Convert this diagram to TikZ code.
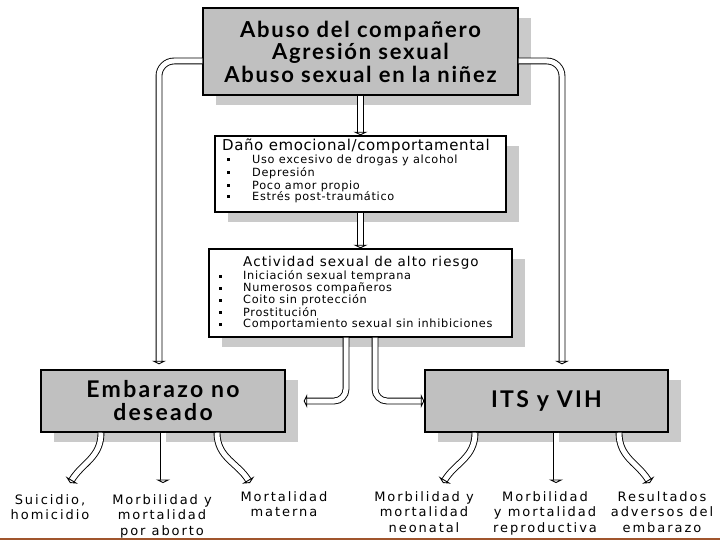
\documentclass[tikz,border=0pt]{standalone}
\usepackage{fontspec}
\setmainfont{DejaVu Sans}
\newfontfamily\ttlfont[LetterSpace=8]{Lato}
\newfontfamily\bigfont[LetterSpace=10]{Lato}
\newfontfamily\boxfont[LetterSpace=4]{DejaVu Sans}
\newfontfamily\itmfont[LetterSpace=6]{DejaVu Sans}
\newfontfamily\ctfont[LetterSpace=8]{DejaVu Sans}
\newfontfamily\labfont[LetterSpace=15]{DejaVu Sans}
\usetikzlibrary{arrows.meta,shadows}
\definecolor{boxgray}{RGB}{192,192,192}
\definecolor{shadegray}{RGB}{202,202,202}
\definecolor{rulecol}{RGB}{160,85,45}
\begin{document}
\begin{tikzpicture}[x=1pt,y=-1pt,
  sbox/.style={draw=black, line width=1.4pt, inner sep=0pt,
    general shadow={fill=shadegray, shadow xshift=13pt, shadow yshift=-10pt}},
  hol/.style={line width=0.9pt, double=white, double distance=5pt,
    -{Triangle[open,fill=white,length=3.5pt,width=14pt,line width=0.9pt]}},
  bul/.style={inner sep=0pt, minimum size=3pt, fill=black},
  btitle/.style={anchor=west, inner sep=0pt},
  itm/.style={anchor=west, inner sep=0pt, font=\itmfont\fontsize{11.3}{13}\selectfont},
  lab/.style={anchor=north, align=center, inner sep=0pt, font=\labfont\fontsize{13}{15.5}\selectfont},
]
\useasboundingbox (0,0) rectangle (720,540);
\fill[white] (0,0) rectangle (720,540);

% boxes
\node[sbox, fill=boxgray, minimum width=315pt, minimum height=87pt, align=center,
  font=\ttlfont\bfseries\fontsize{22}{22.5}\selectfont] (A) at (360.5,51.5)
  {Abuso del compañero\\Agresión sexual\\Abuso sexual en la niñez};

\node[sbox, fill=white, minimum width=291pt, minimum height=76pt] (B) at (360.5,174) {};
\node[btitle, font=\boxfont\fontsize{15}{17}\selectfont] (Bt) at (222,146) {Daño emocional/comportamental};
\node[bul] (Bb1) at (228,160) {};
\node[bul] (Bb2) at (228,173) {};
\node[bul] (Bb3) at (228,186) {};
\node[bul] (Bb4) at (228,197) {};
\node[itm] (Bi1) at (252,160) {Uso excesivo de drogas y alcohol};
\node[itm] (Bi2) at (252,173) {Depresión};
\node[itm] (Bi3) at (252,186) {Poco amor propio};
\node[itm] (Bi4) at (252,197) {Estrés post-traumático};

\node[sbox, fill=white, minimum width=303pt, minimum height=88pt] (C) at (360.5,293) {};
\node[btitle, font=\ctfont\fontsize{13.5}{15}\selectfont] (Ct) at (243,263) {Actividad sexual de alto riesgo};
\node[bul] (Cb1) at (220,276) {};
\node[bul] (Cb2) at (220,288) {};
\node[bul] (Cb3) at (220,300) {};
\node[bul] (Cb4) at (220,312) {};
\node[bul] (Cb5) at (220,324) {};
\node[itm] (Ci1) at (243,276) {Iniciación sexual temprana};
\node[itm] (Ci2) at (243,288) {Numerosos compañeros};
\node[itm] (Ci3) at (243,300) {Coito sin protección};
\node[itm] (Ci4) at (243,312) {Prostitución};
\node[itm] (Ci5) at (243,324) {Comportamiento sexual sin inhibiciones};

\node[sbox, fill=boxgray, minimum width=244pt, minimum height=62pt, align=center,
  font=\bigfont\bfseries\fontsize{23}{23}\selectfont] (D) at (163,401) {Embarazo no\\deseado};
\node[sbox, fill=boxgray, minimum width=243pt, minimum height=62pt, align=center,
  font=\bigfont\bfseries\fontsize{23}{23}\selectfont] (E) at (546.5,401) {ITS y VIH};

% outcome labels
\node[lab] (l1) at (50,494) {Suicidio,\\homicidio};
\node[lab] (l2) at (162,494) {Morbilidad y\\mortalidad\\por aborto};
\node[lab] (l3) at (284,491) {Mortalidad\\materna};
\node[lab] (l4) at (424,491) {Morbilidad y\\mortalidad\\neonatal};
\node[lab] (l5) at (545,491) {Morbilidad\\y mortalidad\\reproductiva};
\node[lab] (l6) at (662,491) {Resultados\\adversos del\\embarazo};

\coordinate (t1) at (70,483);
\coordinate (t2) at (163,483);
\coordinate (t3) at (250,483);
\coordinate (t4) at (443,483);
\coordinate (t5) at (556,483);
\coordinate (t6) at (650,483);

% connectors
\draw[hol] (A.south) -- (B.north);
\draw[hol] (B.south) -- (C.north);
\draw[hol, rounded corners=12pt] ([xshift=-14.5pt]C.south) |- ([xshift=18pt]D.east);
\draw[hol, rounded corners=12pt] ([xshift=14.5pt]C.south) |- (E.west);
\draw[hol, rounded corners=15pt] ([yshift=-9.5pt]A.west) -| ([xshift=-4pt,yshift=5pt]D.north);
\draw[hol, rounded corners=15pt] ([yshift=-9.5pt]A.east) -| ([xshift=15.5pt,yshift=5pt]E.north);

\draw[hol] ([xshift=-62pt]D.south) .. controls +(0,25) and +(12,-20) .. (t1);
\draw[hol] (D.south) -- (t2);
\draw[hol] ([xshift=54pt]D.south) .. controls +(0,25) and +(-12,-20) .. (t3);
\draw[hol] ([xshift=-71.5pt]E.south) .. controls +(0,25) and +(12,-20) .. (t4);
\draw[hol] ([xshift=9.5pt]E.south) -- (t5);
\draw[hol] ([xshift=72.5pt]E.south) .. controls +(0,25) and +(-12,-20) .. (t6);

\draw[rulecol, line width=2.5pt] (0,538.75) -- (720,538.75);
\end{tikzpicture}
\end{document}
